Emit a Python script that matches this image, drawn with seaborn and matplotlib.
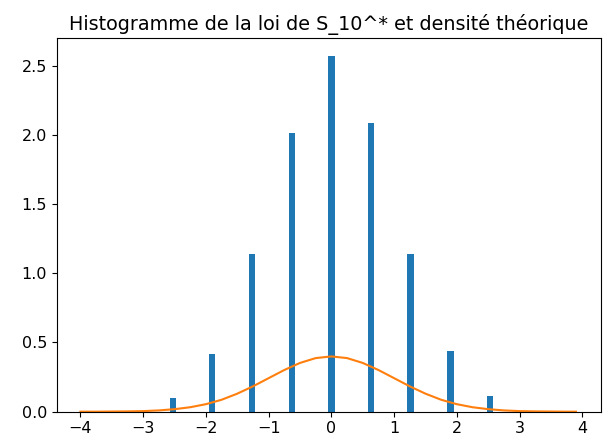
import matplotlib
matplotlib.use("Agg")
import matplotlib.pyplot as plt
import seaborn as sns

# standardized values of S_10 and their histogram heights (density)
positions = [-2.53, -1.90, -1.26, -0.63, 0.0, 0.63, 1.26, 1.90, 2.53]
heights = [0.100, 0.413, 1.142, 2.010, 2.571, 2.087, 1.142, 0.435, 0.113]

# theoretical density curve
curve_x = [-4.0, -3.75, -3.5, -3.25, -3.0, -2.75, -2.5, -2.25, -2.0, -1.75,
           -1.5, -1.25, -1.0, -0.75, -0.5, -0.25, 0.0, 0.25, 0.5, 0.75,
           1.0, 1.25, 1.5, 1.75, 2.0, 2.25, 2.5, 2.75, 3.0, 3.25,
           3.5, 3.75, 3.9]
curve_y = [0.000, 0.000, 0.001, 0.002, 0.004, 0.009, 0.018, 0.032, 0.054, 0.086,
           0.130, 0.183, 0.242, 0.301, 0.352, 0.387, 0.399, 0.387, 0.352, 0.301,
           0.242, 0.183, 0.130, 0.086, 0.054, 0.032, 0.018, 0.009, 0.004, 0.002,
           0.001, 0.000, 0.000]

plt.rcParams["font.size"] = 11.5

fig = plt.figure(figsize=(6.09, 4.46), dpi=100)
ax = fig.add_axes([0.093, 0.077, 0.894, 0.838])

sns.barplot(x=positions, y=heights, native_scale=True, width=0.1 / 0.63,
            color="#1f77b4", saturation=1, ax=ax)
sns.lineplot(x=curve_x, y=curve_y, color="#ff7f0e", ax=ax)

ax.set_xlim(-4.38, 4.30)
ax.set_ylim(0, 2.70)
ax.set_xticks([-4, -3, -2, -1, 0, 1, 2, 3, 4])
ax.set_title("Histogramme de la loi de S_10^* et densité théorique")

fig.savefig("out.png", dpi=100)
